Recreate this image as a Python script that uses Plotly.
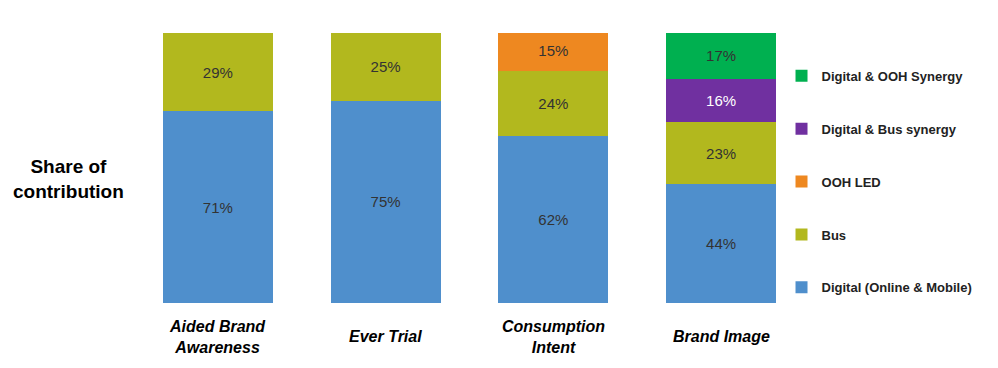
import plotly.graph_objects as go

categories = ["Aided Brand<br>Awareness", "Ever Trial", "Consumption<br>Intent", "Brand Image"]
series_names = ["Digital (Online & Mobile)", "Bus", "OOH LED", "Digital & Bus synergy", "Digital & OOH Synergy"]
digital = [71, 75, 62, 44]
bus = [29, 25, 24, 23]
ooh_led = [None, None, 15, None]
digital_bus = [None, None, None, 16]
digital_ooh = [None, None, None, 17]

colors = ["#4F8FCC", "#B2B81E", "#EE8820", "#7030A0", "#00B050"]
text_colors = ["#333333", "#333333", "#333333", "#FFFFFF", "#333333"]
values = [digital, bus, ooh_led, digital_bus, digital_ooh]

fig = go.Figure()
for i, (name, vals) in enumerate(zip(series_names, values)):
    fig.add_trace(go.Bar(
        x=categories, y=vals, name="<b>" + name + "</b>",
        marker=dict(color=colors[i], line=dict(width=0)),
        texttemplate="%{y}%", textposition="inside", insidetextanchor="middle",
        textfont=dict(family="Liberation Sans, Arial, sans-serif", size=15, color=text_colors[i]),
        legendgroup=name, legendrank=10 - i,
        hoverinfo="skip",
    ))

for c in categories:
    fig.add_annotation(
        x=c, xref="x", y=-0.125, yref="paper", yanchor="middle",
        text="<b><i>" + c + "</i></b>", showarrow=False,
        font=dict(family="Liberation Sans, Arial, sans-serif", size=16, color="#000000"),
    )

fig.add_annotation(
    x=-0.098, xref="paper", y=0.459, yref="paper", xanchor="center", yanchor="middle",
    text="<b>Share of<br>contribution</b>", showarrow=False,
    font=dict(family="Liberation Sans, Arial, sans-serif", size=19, color="#000000"),
)

fig.update_layout(
    barmode="stack",
    bargap=0.344,
    width=990, height=360,
    margin=dict(l=126, r=193, t=25, b=65),
    plot_bgcolor="white", paper_bgcolor="white",
    showlegend=True,
    legend=dict(
        x=0.965, xanchor="left", y=0.897, yanchor="top",
        traceorder="grouped", tracegroupgap=33,
        font=dict(family="Liberation Sans, Arial, sans-serif", size=13, color="#222222"),
        itemwidth=30, itemsizing="constant",
        bgcolor="rgba(0,0,0,0)",
    ),
    xaxis=dict(showticklabels=False, showline=False, ticks="", showgrid=False),
    yaxis=dict(range=[0, 100], visible=False, showgrid=False),
)

fig.write_html("out.html")
